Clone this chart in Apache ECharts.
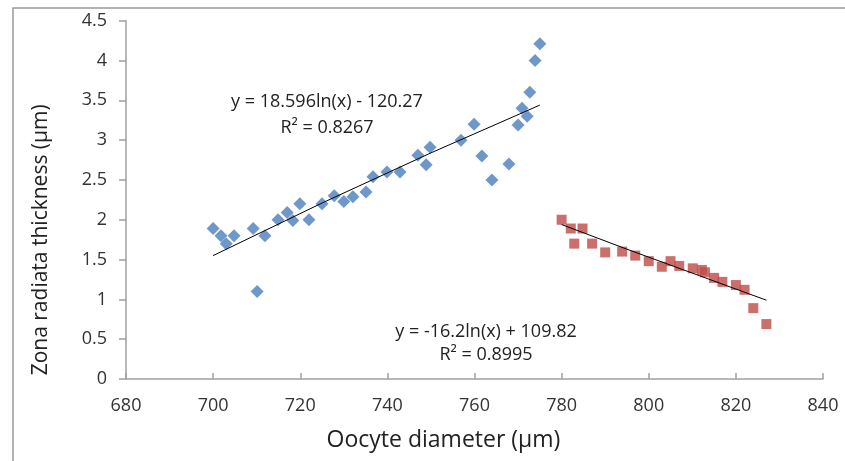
<!DOCTYPE html>
<html><head><meta charset="utf-8">
<script src="https://cdn.jsdelivr.net/npm/echarts@6/dist/echarts.min.js"></script>
<style>html,body{margin:0;padding:0;background:#fff}#c{width:845px;height:461px}</style>
</head><body><div id="c"></div>
<script>
// Blue series (smaller oocytes)
const blueX = [700,701.8,703,704.8,709.2,710.1,711.9,714.9,717,718.3,719.9,722,725,727.8,730,732.1,735.1,736.7,739.9,742.9,747,748.9,749.8,756.9,759.9,761.7,764,767.9,770,770.9,772.1,772.7,773.9,775];
const blueY = [1.89,1.8,1.7,1.8,1.89,1.1,1.8,2.0,2.09,1.99,2.2,2.0,2.2,2.3,2.23,2.29,2.35,2.54,2.6,2.6,2.81,2.69,2.91,3.0,3.2,2.8,2.5,2.7,3.19,3.4,3.3,3.6,4.0,4.21];
// Red series (larger oocytes)
const redX = [780,782.1,782.9,784.8,787,790,793.9,796.9,800,803,805,807,810.1,812.2,812.9,815,816.9,820,822,824,827];
const redY = [2.0,1.89,1.7,1.89,1.7,1.59,1.6,1.55,1.48,1.41,1.48,1.42,1.39,1.37,1.34,1.27,1.22,1.18,1.12,0.89,0.69];
// Trend lines
const blueTrendX = [700,725,750,775];
const blueTrendY = [1.55,2.21,2.84,3.44];
const redTrendX = [780,795,810,827];
const redTrendY = [1.94,1.63,1.33,0.99];
const blueEq = ['y = 18.596ln(x) - 120.27','R\u00b2 = 0.8267'];
const redEq = ['y = -16.2ln(x) + 109.82','R\u00b2 = 0.8995'];
const xTicks = {min:680,max:840,interval:20};
const yTicks = {min:0,max:4.5,interval:0.5};

const zip = (a,b)=>a.map((v,i)=>[v,b[i]]);
const font = '"Open Sans", "Noto Sans", sans-serif';
const chart = echarts.init(document.getElementById('c'));
chart.setOption({
  animation:false,
  grid:{left:126,right:22,top:20.7,bottom:82},
  xAxis:{type:'value',min:xTicks.min,max:xTicks.max,interval:xTicks.interval,
    name:'Oocyte diameter (\u00b5m)',nameLocation:'middle',nameGap:50,
    nameTextStyle:{fontFamily:font,fontSize:23,color:'#222',padding:[0,62,0,0]},
    axisLine:{lineStyle:{color:'#a0a0a0',width:1.5}},
    axisTick:{inside:true,length:6,lineStyle:{color:'#a0a0a0',width:1.5}},
    axisLabel:{fontFamily:font,fontSize:18,color:'#333',margin:18},
    splitLine:{show:false}},
  yAxis:{type:'value',min:yTicks.min,max:yTicks.max,interval:yTicks.interval,
    name:'Zona radiata thickness (\u00b5m)',nameLocation:'middle',nameGap:74,
    nameTextStyle:{fontFamily:font,fontSize:21,color:'#222',padding:[0,80,0,0]},
    axisLine:{show:true,lineStyle:{color:'#a0a0a0',width:1.5}},
    axisTick:{show:true,length:7,lineStyle:{color:'#a0a0a0',width:1.5}},
    axisLabel:{fontFamily:font,fontSize:18,color:'#333',margin:19},
    splitLine:{show:false}},
  series:[
    {type:'scatter',data:zip(blueX,blueY),symbol:'diamond',symbolSize:13,itemStyle:{color:'#4a7ebb'},z:3},
    {type:'scatter',data:zip(redX,redY),symbol:'rect',symbolSize:10,itemStyle:{color:'#be4b48'},z:3},
    {type:'line',data:zip(blueTrendX,blueTrendY),showSymbol:false,symbol:'none',lineStyle:{color:'#000',width:1},z:4},
    {type:'line',data:zip(redTrendX,redTrendY),showSymbol:false,symbol:'none',lineStyle:{color:'#000',width:1},z:4}
  ],
  graphic:[
    {type:'rect',shape:{x:13,y:8,width:900,height:500},style:{fill:'none',stroke:'#9a9a9a',lineWidth:1.5},silent:true},
    {type:'text',x:327,y:102,style:{text:blueEq[0],fontFamily:font,fontSize:18,fill:'#222',align:'center',verticalAlign:'middle'}},
    {type:'text',x:327,y:128,style:{text:blueEq[1],fontFamily:font,fontSize:18,fill:'#222',align:'center',verticalAlign:'middle'}},
    {type:'text',x:486,y:332,style:{text:redEq[0],fontFamily:font,fontSize:18,fill:'#222',align:'center',verticalAlign:'middle'}},
    {type:'text',x:486,y:355,style:{text:redEq[1],fontFamily:font,fontSize:18,fill:'#222',align:'center',verticalAlign:'middle'}}
  ]
});
</script></body></html>
